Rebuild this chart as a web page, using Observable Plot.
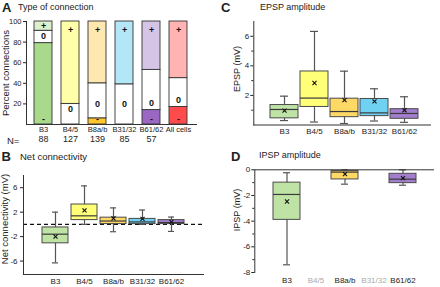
<!DOCTYPE html>
<html><head><meta charset="utf-8">
<script src="https://cdn.jsdelivr.net/npm/d3@7"></script>
<script src="https://cdn.jsdelivr.net/npm/@observablehq/plot@0.6"></script>
<style>
body{margin:0;background:#fff;}
#fig{position:relative;width:440px;height:287px;overflow:hidden;font-family:"Liberation Sans",Arial,sans-serif;color:#222;background:#fff;}
.lt{position:absolute;font-weight:bold;font-size:13px;line-height:1;white-space:nowrap;}
.tt{position:absolute;font-size:9px;line-height:1;white-space:nowrap;}
.yl{position:absolute;font-size:9px;line-height:1;white-space:nowrap;transform:translate(-50%,-50%) rotate(-90deg);}
</style></head><body><div id="fig"></div>
<script>
// ---- Panel A data: type of connection (percent) ----
const cellTypes = ["B3","B4/5","B8a/b","B31/32","B61/62","All cells"];
const nCells   = [88,127,139,85,57];
const pctNeg   = [79,0,6,0,14,17];
const pctZero  = [12,20,34,39,39,28];
const pctPos   = [9,80,60,61,47,55];
const percentTicks = [20,40,60,80,100];

// ---- Panel B data: net connectivity (mV) ----
const boxTypes = ["B3","B4/5","B8a/b","B31/32","B61/62"];
const netLo   = [-6.3, 0.0, -1.2, 0.0, -1.15];
const netQ1   = [-3.1, 0.7, 0.05, 0.05, 0.05];
const netMed  = [-1.6, 1.4, 0.55, 0.4, 0.3];
const netQ3   = [-0.5, 3.25, 1.1, 0.9, 0.7];
const netHi   = [2.0, 6.3, 2.7, 2.35, 1.2];
const netMean = [-2.0, 2.3, 1.0, 0.9, 0.4];
const netTicks = [-6,-2,2,6];

// ---- Panel C data: EPSP amplitude (mV) ----
const epspLo   = [0.3, 0.2, 0.1, 0.27, 0.18];
const epspQ1   = [0.45, 1.22, 0.53, 0.6, 0.42];
const epspMed  = [1.05, 1.82, 0.91, 0.82, 0.78];
const epspQ3   = [1.35, 3.62, 1.78, 1.76, 1.07];
const epspHi   = [1.95, 6.33, 3.64, 2.45, 1.91];
const epspMean = [0.97, 2.84, 1.68, 1.6, 1.0];
const epspTicks = [2,4,6];
const epspMinor = [1,3,5];

// ---- Panel D data: IPSP amplitude (mV) ----
const ipspTypes = ["B3","B8a/b","B61/62"];
const ipspMissing = ["B4/5","B31/32"];
const ipspLo   = [-7.4, -1.12, -1.2];
const ipspQ1   = [-3.9, -0.75, -1.04];
const ipspMed  = [-1.92, -0.18, -0.73];
const ipspQ3   = [-1.0, -0.1, -0.31];
const ipspHi   = [-0.23, 0, 0];
const ipspMean = [-2.47, -0.34, -0.65];
const ipspTicks = [0,-2,-4,-6,-8];
const ipspMinor = [-1,-3,-5,-7];

// ---- styles ----
const posColor = {"B3":"#DCEFCF","B4/5":"#FFFFA8","B8a/b":"#FFE8B0","B31/32":"#B3E7F8","B61/62":"#D6C4E6","All cells":"#FFB3B3"};
const negColor = {"B3":"#A9D98B","B4/5":"#FFFF80","B8a/b":"#FFC62E","B31/32":"#6FD3F2","B61/62":"#9A67C2","All cells":"#FF4B4B"};
const boxColor = {"B3":"#BFE3A5","B4/5":"#FFFF78","B8a/b":"#FFD966","B31/32":"#70D2F3","B61/62":"#A47ECE"};
const FONT = '"Liberation Sans",Arial,sans-serif';
const fmt = d => String(d);

const fig = document.getElementById("fig");
function addDiv(cls, text, css) {
  const d = document.createElement("div");
  d.className = cls; d.textContent = text;
  Object.assign(d.style, css);
  fig.appendChild(d);
}
function place(svg, left, top) {
  svg.style.position = "absolute";
  svg.style.left = left + "px";
  svg.style.top = top + "px";
  fig.appendChild(svg);
}

// ---- Panel A ----
const segRows = [];
const segLabels = [];
cellTypes.forEach((t, i) => {
  const n = pctNeg[i], z = pctZero[i], p = pctPos[i];
  segRows.push({type: t, value: n, fill: negColor[t]});
  segRows.push({type: t, value: z, fill: "#ffffff"});
  segRows.push({type: t, value: p, fill: posColor[t]});
  if (n > 0) segLabels.push({type: t, y: 5, t: "-"});
  if (z > 0) segLabels.push({type: t, y: Math.min(n + z / 2 + 5, Math.max(n + 7, 20)), t: "0"});
  if (p > 0) segLabels.push({type: t, y: Math.max(92, n + z + p / 2), t: "+"});
});
const nRows = nCells.map((n, i) => ({type: cellTypes[i], n: String(n)}));

const plotA = Plot.plot({
  width: 220, height: 150,
  marginTop: 21, marginBottom: 26, marginLeft: 26, marginRight: 24,
  style: {fontFamily: FONT, fontSize: "7.5px", color: "#222", background: "transparent"},
  x: {domain: cellTypes, padding: 0.32, insetLeft: -3, insetRight: -2.5},
  y: {domain: [0, 100]},
  color: {type: "identity"},
  marks: [
    Plot.barY(segRows, {x: "type", y: "value", fill: "fill", stroke: "#333", strokeWidth: 0.9}),
    Plot.text(segLabels, {x: "type", y: "y", text: "t", fontWeight: "bold", fontSize: 9, fill: "#111"}),
    Plot.text(nRows, {x: "type", text: "n", frameAnchor: "bottom", dy: 17, fontSize: 9, fill: "#222"}),
    Plot.axisX({tickSize: 0, tickPadding: 2, fontSize: 7.5, label: null}),
    Plot.axisY({ticks: percentTicks, tickSize: 3, tickPadding: 2, fontSize: 7.5, tickFormat: fmt, label: null}),
    Plot.frame({anchor: "left", stroke: "#333"}),
    Plot.frame({anchor: "bottom", stroke: "#333"})
  ]
});
place(plotA, 0, 0);

// ---- box helpers ----
function boxRows(types, lo, q1, med, q3, hi, mean) {
  return types.map((t, i) => ({type: t, lo: lo[i], q1: q1[i], med: med[i], q3: q3[i], hi: hi[i], mean: mean[i], fill: boxColor[t]}));
}
function boxMarks(rows, capInset) {
  return [
    Plot.ruleX(rows, {x: "type", y1: "lo", y2: "hi", stroke: "#555", strokeWidth: 1.2}),
    Plot.tickY(rows, {x: "type", y: "lo", stroke: "#555", strokeWidth: 1.2, insetLeft: capInset, insetRight: capInset}),
    Plot.tickY(rows, {x: "type", y: "hi", stroke: "#555", strokeWidth: 1.2, insetLeft: capInset, insetRight: capInset}),
    Plot.barY(rows, {x: "type", y1: "q1", y2: "q3", fill: "fill", stroke: "#4a4a4a", strokeWidth: 1}),
    Plot.tickY(rows, {x: "type", y: "med", stroke: "#3a3a3a", strokeWidth: 1.2}),
    Plot.dot(rows, {x: "type", y: "mean", symbol: "times", r: 2, stroke: "#111", strokeWidth: 1.1})
  ];
}

// ---- Panel B ----
const plotB = Plot.plot({
  width: 220, height: 142,
  marginTop: 30, marginBottom: 13, marginLeft: 23, marginRight: 17,
  style: {fontFamily: FONT, fontSize: "8px", color: "#222", background: "transparent"},
  x: {domain: boxTypes, padding: 0.1, insetLeft: 14, insetRight: 14},
  y: {domain: [-8.2, 8]},
  color: {type: "identity"},
  marks: [
    Plot.ruleY([0], {stroke: "#111", strokeWidth: 1.2, strokeDasharray: "4 3"}),
    ...boxMarks(boxRows(boxTypes, netLo, netQ1, netMed, netQ3, netHi, netMean), 10),
    Plot.axisX({tickSize: 0, tickPadding: 3.5, fontSize: 8, label: null}),
    Plot.axisY({ticks: netTicks, tickSize: 3, tickPadding: 3, fontSize: 8, tickFormat: fmt, label: null}),
    Plot.frame({anchor: "left", stroke: "#333"}),
    Plot.frame({anchor: "bottom", stroke: "#333"})
  ]
});
place(plotB, 0, 145);

// ---- Panel C ----
const plotC = Plot.plot({
  width: 220, height: 145,
  marginTop: 21, marginBottom: 20.5, marginLeft: 33.3, marginRight: 10,
  style: {fontFamily: FONT, fontSize: "8px", color: "#222", background: "transparent"},
  x: {domain: boxTypes, padding: 0.08, insetLeft: 14, insetRight: 10},
  y: {domain: [0, 7]},
  color: {type: "identity"},
  marks: [
    ...boxMarks(boxRows(boxTypes, epspLo, epspQ1, epspMed, epspQ3, epspHi, epspMean), 10),
    Plot.axisX({tickSize: 0, tickPadding: 3.5, fontSize: 8, label: null}),
    Plot.axisY({ticks: epspTicks, tickSize: 3, tickPadding: 1.5, fontSize: 8, tickFormat: fmt, label: null}),
    Plot.axisY({ticks: epspMinor, tickSize: 2, text: null, label: null}),
    Plot.frame({anchor: "left", stroke: "#333"}),
    Plot.frame({anchor: "bottom", stroke: "#333"})
  ]
});
place(plotC, 220, 0);

// ---- Panel D ----
const plotD = Plot.plot({
  width: 220, height: 142,
  marginTop: 24.3, marginBottom: 15, marginLeft: 34.3, marginRight: 7,
  style: {fontFamily: FONT, fontSize: "8px", color: "#222", background: "transparent"},
  x: {domain: boxTypes, padding: 0.08, insetLeft: 13.5, insetRight: 13},
  y: {domain: [-8, 0]},
  color: {type: "identity"},
  marks: [
    ...boxMarks(boxRows(ipspTypes, ipspLo, ipspQ1, ipspMed, ipspQ3, ipspHi, ipspMean), 10),
    Plot.axisX(ipspTypes, {tickSize: 0, tickPadding: 5, fontSize: 8, fill: "#222", label: null}),
    Plot.axisX(ipspMissing, {tickSize: 0, tickPadding: 5, fontSize: 8, fill: "#aaaaaa", label: null}),
    Plot.axisY({ticks: ipspTicks, tickSize: 3, tickPadding: 1.5, fontSize: 8, tickFormat: fmt, label: null}),
    Plot.axisY({ticks: ipspMinor, tickSize: 2, text: null, label: null}),
    Plot.frame({anchor: "left", stroke: "#333"}),
    Plot.frame({anchor: "top", stroke: "#333"})
  ]
});
place(plotD, 220, 145);

// ---- panel letters, titles, axis labels ----
addDiv("lt", "A", {left: "2px", top: "1px"});
addDiv("tt", "Type of connection", {left: "18px", top: "3px"});
addDiv("lt", "B", {left: "1.5px", top: "149.7px"});
addDiv("tt", "Net connectivity", {left: "20px", top: "152px", fontSize: "9.5px"});
addDiv("lt", "C", {left: "221px", top: "1px"});
addDiv("tt", "EPSP amplitude", {left: "260px", top: "3px"});
addDiv("lt", "D", {left: "231px", top: "149.7px"});
addDiv("tt", "IPSP amplitude", {left: "259px", top: "151px"});
addDiv("tt", "N=", {left: "7px", top: "136px", fontSize: "9.5px"});
addDiv("yl", "Percent connections", {left: "6px", top: "72.5px", fontSize: "9.5px"});
addDiv("yl", "Net connectivity (mV)", {left: "5px", top: "219px", fontSize: "9.5px"});
addDiv("yl", "EPSP (mV)", {left: "237px", top: "69px"});
addDiv("yl", "IPSP (mV)", {left: "236.5px", top: "209.5px"});
</script>
</body></html>
